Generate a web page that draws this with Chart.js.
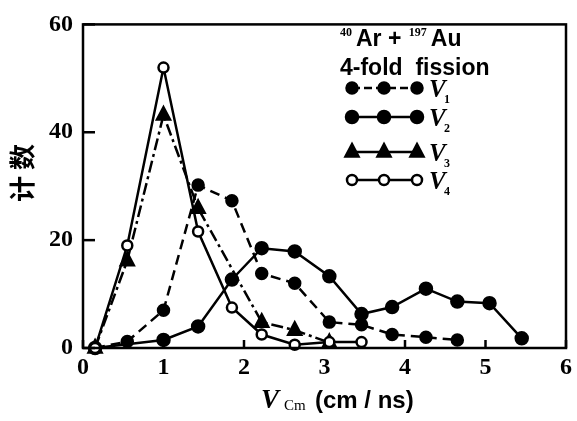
<!DOCTYPE html>
<html>
<head>
<meta charset="utf-8">
<script src="https://cdn.jsdelivr.net/npm/chart.js@4/dist/chart.umd.min.js"></script>
<style>
  html, body { margin: 0; padding: 0; background: #fff; }
</style>
</head>
<body>
<canvas id="c" width="577" height="421"></canvas>
<script>
// velocity bins (cm/ns) and counts for each fragment
const v1X = [0.15, 0.55, 1.0, 1.43, 1.85, 2.22, 2.63, 3.06, 3.46, 3.84, 4.26, 4.65];
const v1Y = [0, 1.2, 7, 30.2, 27.3, 13.8, 12, 4.8, 4.3, 2.5, 2, 1.5];
const v2X = [0.15, 1.0, 1.43, 1.85, 2.22, 2.63, 3.06, 3.46, 3.84, 4.26, 4.65, 5.05, 5.45];
const v2Y = [0, 1.5, 4, 12.7, 18.5, 17.9, 13.3, 6.3, 7.6, 11, 8.6, 8.3, 1.8];
const v3X = [0.15, 0.55, 1.0, 1.43, 2.22, 2.63, 3.06];
const v3Y = [0, 16.2, 43.2, 25.9, 4.8, 3.3, 1];
const v4X = [0.15, 0.55, 1.0, 1.43, 1.85, 2.22, 2.63, 3.06, 3.46];
const v4Y = [0, 19, 52, 21.6, 7.5, 2.5, 0.6, 1.1, 1.1];

const xTicks = [0, 1, 2, 3, 4, 5, 6];
const yTicks = [0, 20, 40, 60];

const pts = (xs, ys) => xs.map((x, i) => ({x: x, y: ys[i]}));

const series = [
  {data: pts(v1X, v1Y), dash: [10, 6], style: 'circle', fill: '#000', r: 5.5},
  {data: pts(v2X, v2Y), dash: [], style: 'circle', fill: '#000', r: 6},
  {data: pts(v3X, v3Y), dash: [12, 4, 3, 4], style: 'triangle', fill: '#000', r: 6.5},
  {data: pts(v4X, v4Y), dash: [], style: 'circle', fill: '#fff', r: 5}
];

function marker(ctx, style, x, y, r, fill) {
  ctx.save();
  ctx.setLineDash([]);
  ctx.lineWidth = 2.5;
  ctx.strokeStyle = '#000';
  ctx.fillStyle = fill;
  ctx.beginPath();
  if (style === 'triangle') {
    ctx.moveTo(x, y - r * 1.2);
    ctx.lineTo(x + r, y + r * 0.7);
    ctx.lineTo(x - r, y + r * 0.7);
    ctx.closePath();
  } else {
    ctx.arc(x, y, r, 0, Math.PI * 2);
  }
  ctx.fill();
  ctx.stroke();
  ctx.restore();
}

// writes pieces left to right, each with its own font and baseline shift
function runText(ctx, x, y, parts) {
  parts.forEach(p => {
    ctx.font = p.font;
    ctx.fillText(p.t, x, y + (p.dy || 0));
    x += ctx.measureText(p.t).width + (p.gap || 0);
  });
}

// frame, inward ticks, axis titles and the key box text
const decor = {
  id: 'decor',
  afterDraw(chart) {
    const ctx = chart.ctx;
    const a = chart.chartArea;
    const xs = chart.scales.x, ys = chart.scales.y;
    ctx.save();
    ctx.strokeStyle = '#000';
    ctx.fillStyle = '#000';
    ctx.lineWidth = 2.5;
    ctx.strokeRect(a.left, a.top, a.right - a.left, a.bottom - a.top);
    yTicks.forEach(v => {
      const p = ys.getPixelForValue(v);
      ctx.beginPath(); ctx.moveTo(a.left, p); ctx.lineTo(a.left + 12, p); ctx.stroke();
    });
    xTicks.forEach(v => {
      const p = xs.getPixelForValue(v);
      ctx.beginPath(); ctx.moveTo(p, a.bottom); ctx.lineTo(p, a.bottom - 8); ctx.stroke();
    });

    // y title
    ctx.save();
    ctx.translate(22, 173);
    ctx.rotate(-Math.PI / 2);
    ctx.font = 'bold 26px "Noto Sans CJK SC"';
    ctx.textAlign = 'center';
    ctx.textBaseline = 'middle';
    ctx.fillText('计 数', 0, 0);
    ctx.restore();

    // x title
    ctx.textBaseline = 'alphabetic';
    ctx.textAlign = 'left';
    ctx.font = 'italic bold 27px "Liberation Serif"';
    ctx.fillText('V', 261, 408);
    ctx.font = '15px "Liberation Serif"';
    ctx.fillText('Cm', 284, 410);
    ctx.font = 'bold 24px "Liberation Sans"';
    ctx.fillText('(cm / ns)', 315, 408);

    // key
    const big = 'bold 23px "Liberation Sans"';
    const sup = 'bold 12px "Liberation Serif"';
    runText(ctx, 340, 46, [
      {t: '40', font: sup, dy: -10, gap: 4},
      {t: 'Ar + ', font: big, gap: 1},
      {t: '197', font: sup, dy: -10, gap: 4},
      {t: 'Au', font: big}
    ]);
    ctx.font = big;
    ctx.fillText('4-fold  fission', 340, 75);

    const rows = [88, 117, 152, 180];
    series.forEach((s, i) => {
      const y = rows[i];
      ctx.save();
      ctx.lineWidth = 2.5;
      ctx.setLineDash(i === 0 ? [8, 4] : []);
      ctx.beginPath(); ctx.moveTo(352, y); ctx.lineTo(417, y); ctx.stroke();
      ctx.restore();
      [352, 384, 417].forEach(px => marker(ctx, s.style, px, y, s.r, s.fill));
      ctx.font = 'italic bold 25px "Liberation Serif"';
      ctx.fillText('V', 429, y + 9);
      ctx.font = 'bold 12px "Liberation Serif"';
      ctx.fillText(String(i + 1), 444, y + 15);
    });
    ctx.restore();
  }
};

// markers drawn on top of every line
const marks = {
  id: 'marks',
  afterDatasetsDraw(chart) {
    const ctx = chart.ctx;
    const xs = chart.scales.x, ys = chart.scales.y;
    series.forEach(s => {
      s.data.forEach(p => {
        marker(ctx, s.style, xs.getPixelForValue(p.x), ys.getPixelForValue(p.y), s.r, s.fill);
      });
    });
  }
};

new Chart(document.getElementById('c'), {
  type: 'line',
  data: {
    datasets: series.map(s => ({
      data: s.data,
      borderColor: '#000',
      borderWidth: 2.5,
      borderDash: s.dash,
      pointRadius: 0,
      tension: 0,
      fill: false
    }))
  },
  options: {
    responsive: false,
    animation: false,
    devicePixelRatio: 1,
    layout: {padding: {left: 0, right: 11, top: 13, bottom: 0}},
    plugins: {legend: {display: false}, tooltip: {enabled: false}},
    scales: {
      x: {
        type: 'linear', min: 0, max: 6,
        afterFit: s => { s.height = 73; },
        afterBuildTicks: s => { s.ticks = xTicks.map(v => ({value: v})); },
        grid: {display: false, drawTicks: false},
        border: {display: false},
        ticks: {padding: 5, color: '#000', font: {family: 'Liberation Serif', size: 24, weight: 'bold'}}
      },
      y: {
        min: 0, max: 60,
        afterFit: s => { s.width = 83; },
        afterBuildTicks: s => { s.ticks = yTicks.map(v => ({value: v})); },
        grid: {display: false, drawTicks: false},
        border: {display: false},
        ticks: {padding: 10, color: '#000', font: {family: 'Liberation Serif', size: 24, weight: 'bold'}}
      }
    }
  },
  plugins: [marks, decor]
});
</script>
</body>
</html>
